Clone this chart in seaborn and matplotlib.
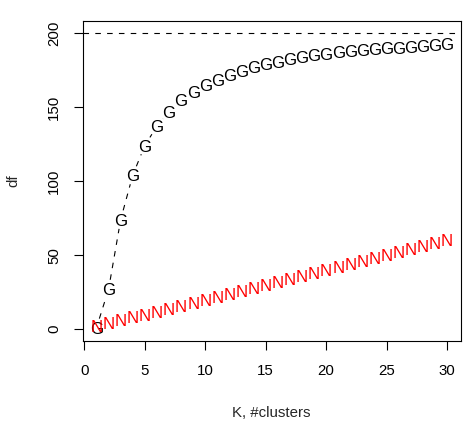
import numpy as np
import pandas as pd
import matplotlib
matplotlib.use("Agg")
import matplotlib.pyplot as plt
import matplotlib.transforms as mtransforms
import seaborn as sns

# ---- data ----
K = list(range(1, 31))
df_G = [1, 27, 74, 104, 124, 137, 147, 154.5, 160.5, 165, 168.5, 171.5, 174.5, 176.8,
        179, 180.6, 182.2, 183.6, 185, 186, 187, 187.7, 188.4, 189, 189.6, 190.2,
        190.7, 191.2, 191.7, 192.3]
df_N = [2 * k for k in K]
ref_level = 200
x_ticks = [0, 5, 10, 15, 20, 25, 30]
y_ticks = [0, 50, 100, 150, 200]

sns.set_style("ticks")
plt.rcParams['font.family'] = ['Liberation Sans', 'DejaVu Sans']
plt.rcParams['lines.scale_dashes'] = False

W, H, DPI = 466, 424, 100
fig = plt.figure(figsize=(W / DPI, H / DPI), dpi=DPI)
ax = fig.add_axes([82.5 / W, 1 - 341 / H, (461 - 82.5) / W, (341 - 21) / H])

fs = 10.8
fs_pch = 12.2
ax.set_xlim(-0.16, 31.16)
ax.set_ylim(-8, 208)
ax.set_xticks(x_ticks)
ax.set_yticks(y_ticks)
ax.tick_params(axis='both', direction='out', length=6.5, width=0.8, labelsize=fs,
               color='black', labelcolor='black')
ax.tick_params(axis='x', pad=10)
ax.tick_params(axis='y', pad=9)
for lab in ax.get_yticklabels():
    lab.set_rotation(90)
    lab.set_va('center')
for s in ax.spines.values():
    s.set_linewidth(0.8)
    s.set_color('black')

fig.canvas.draw()
trans = ax.transData
inv = trans.inverted()
gap_px = 9.5


def gapped_segments(xs, ys, name):
    pts = trans.transform(np.column_stack([xs, ys]))
    rows = []
    for i in range(len(pts) - 1):
        p0, p1 = pts[i], pts[i + 1]
        d = p1 - p0
        L = np.hypot(*d)
        if L <= 2 * gap_px:
            continue
        u = d / L
        a = inv.transform(p0 + u * gap_px)
        b = inv.transform(p1 - u * gap_px)
        rows.append({"x": a[0], "y": a[1], "seg": f"{name}{i}"})
        rows.append({"x": b[0], "y": b[1], "seg": f"{name}{i}"})
    return pd.DataFrame(rows)


segG = gapped_segments(K, df_G, "G")
segN = gapped_segments(K, df_N, "N")

ax.axhline(ref_level, color='black', lw=0.8, dashes=(4, 4.5))

if len(segG):
    sns.lineplot(data=segG, x="x", y="y", units="seg", estimator=None, sort=False,
                 color='black', lw=0.8, ax=ax, linestyle=(0, (4, 4.5)))
if len(segN):
    sns.lineplot(data=segN, x="x", y="y", units="seg", estimator=None, sort=False,
                 color='red', lw=0.8, ax=ax)

cap_off = mtransforms.ScaledTranslation(0, -0.729 * fs_pch / 2 / 72, fig.dpi_scale_trans)
for k, g in zip(K, df_G):
    ax.text(k, g, "G", ha='center', va='baseline', fontsize=fs_pch, color='black',
            transform=ax.transData + cap_off)
for k, n in zip(K, df_N):
    ax.text(k, n, "N", ha='center', va='baseline', fontsize=fs_pch, color='red',
            transform=ax.transData + cap_off)

ax.set_xlim(-0.16, 31.16)
ax.set_ylim(-8, 208)
ax.set_xlabel("K, #clusters", fontsize=fs, labelpad=20)
ax.set_ylabel("df", fontsize=fs, labelpad=19)

fig.savefig("out.png", dpi=DPI)
